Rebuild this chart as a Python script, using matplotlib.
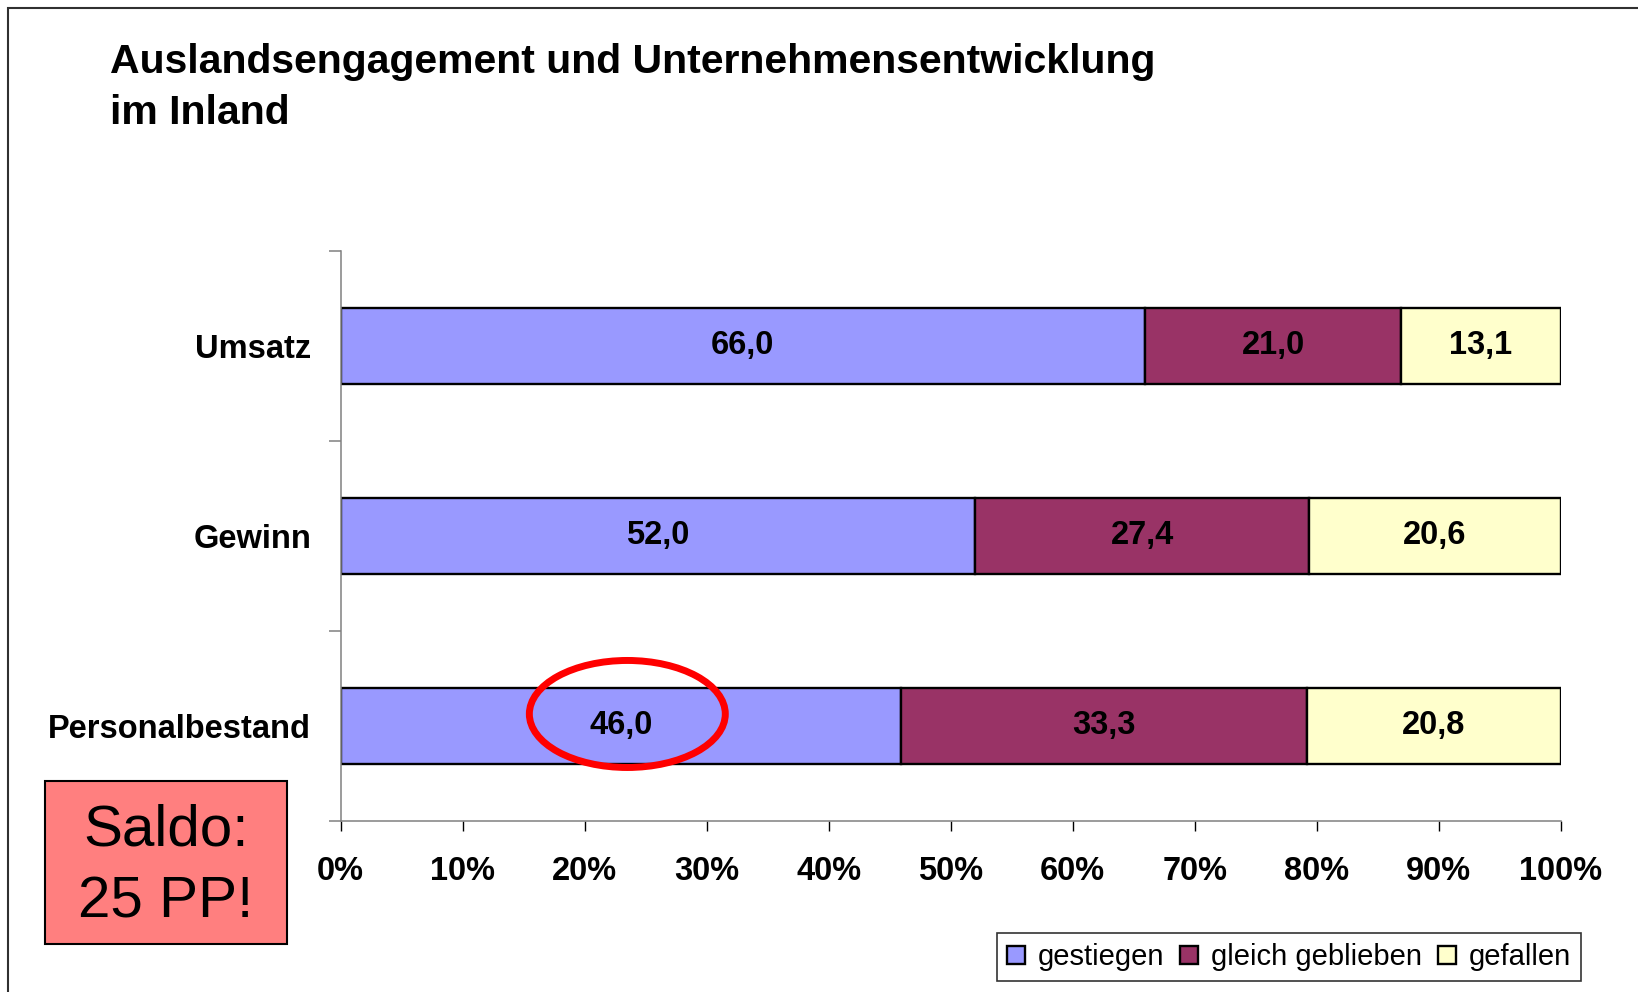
import numpy as np
import matplotlib.pyplot as plt
from matplotlib.patches import Ellipse, Rectangle

# Auslandsengagement und Unternehmensentwicklung im Inland (100% gestapelt)
categories = ["Personalbestand", "Gewinn", "Umsatz"]
series_names = ["gestiegen", "gleich geblieben", "gefallen"]
gestiegen = [46.0, 52.0, 66.0]
gleich_geblieben = [33.3, 27.4, 21.0]
gefallen = [20.8, 20.6, 13.1]
colors = ["#9999FF", "#993366", "#FFFFCC"]
x_ticks = list(range(0, 101, 10))

plt.rcParams['font.family'] = ['Liberation Sans', 'DejaVu Sans']

W, H = 1638, 992
fig = plt.figure(figsize=(W / 100, H / 100), dpi=100)
ax = fig.add_axes([340.6 / W, 1 - 821 / H, 1220.1 / W, 570.3 / H])

values = np.array([gestiegen, gleich_geblieben, gefallen])
shares = values / values.sum(axis=0) * 100  # like Excel's 100% stacked bars
y = np.arange(len(categories))
left = np.zeros(len(categories))
for i, name in enumerate(series_names):
    bars = ax.barh(y, shares[i], left=left, height=0.4, color=colors[i],
                   edgecolor='black', linewidth=1.7, label=name)
    ax.bar_label(bars, labels=[f"{v:.1f}".replace('.', ',') for v in values[i]],
                 label_type='center', fontsize=23.5, fontweight='bold')
    left += shares[i]

ax.set_xlim(0, 100)
ax.set_ylim(-0.5, len(categories) - 0.5)
ax.set_xticks(x_ticks, [f"{t}%" for t in x_ticks], fontweight='bold', fontsize=23.5)
ax.tick_params(axis='x', length=7.2, width=1, color='black', pad=18)

# category boundaries get the ticks, labels sit on the bar centres
ax.set_yticks(np.arange(len(categories) + 1) - 0.5, [])
ax.set_yticks(y, categories, minor=True, fontweight='bold', fontsize=23.5)
ax.tick_params(axis='y', which='major', length=8.6, width=1.1, color='#808080')
ax.tick_params(axis='y', which='minor', length=0, pad=21.3)

for s in ['top', 'right']:
    ax.spines[s].set_visible(False)
for s in ['left', 'bottom']:
    ax.spines[s].set_color('#808080')
    ax.spines[s].set_linewidth(1.1)

# red circle around the Personalbestand value
ax.add_patch(Ellipse((23.5, 0.063), 16.06, 0.563, fill=False,
                     edgecolor='red', lw=5, clip_on=False))

# title
fig.text(110 / W, 1 - 73 / H, "Auslandsengagement und Unternehmensentwicklung",
         fontsize=29.5, fontweight='bold', va='baseline')
fig.text(110 / W, 1 - 124 / H, "im Inland", fontsize=29.5, fontweight='bold', va='baseline')

# Saldo box
fig.add_artist(Rectangle((45 / W, 1 - 944 / H), 242 / W, 163 / H, transform=fig.transFigure,
                         facecolor='#FF7F7F', edgecolor='black', lw=1.5))
fig.text(166 / W, 1 - 845 / H, "Saldo:", ha='center', va='baseline', fontsize=42)
fig.text(166 / W, 1 - 918 / H, "25 PP!", ha='center', va='baseline', fontsize=42)

# outer frame of the chart object
fig.add_artist(Rectangle((8 / W, -0.5), 2, 1.5 - 8 / H, transform=fig.transFigure,
                         fill=False, edgecolor='#303030', lw=1.5))

handles, labels = ax.get_legend_handles_labels()
leg = fig.legend(handles, labels, loc='upper left', bbox_to_anchor=(997 / W, 1 - 933 / H),
                 ncol=3, fontsize=21, frameon=True, fancybox=False, edgecolor='black',
                 borderaxespad=0, handlelength=0.6, handleheight=0.6, handletextpad=0.45,
                 columnspacing=0.55, borderpad=0.35)
leg.get_frame().set_linewidth(1.2)

fig.savefig('out.png', dpi=100)
